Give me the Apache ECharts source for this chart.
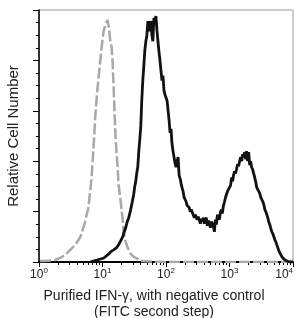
<!DOCTYPE html>
<html>
<head>
<meta charset="utf-8">
<script src="https://cdn.jsdelivr.net/npm/echarts@6/dist/echarts.min.js"></script>
<style>
  html, body { margin: 0; padding: 0; background: #fff; }
  #chart { width: 295px; height: 318px; }
</style>
</head>
<body>
<div id="chart"></div>
<script>
// negative control (grey dashed)
var controlX = [1.04, 1.24, 1.8, 2.15, 2.59, 3.1, 3.73, 4.48, 5.18, 6.0, 6.69, 7.2, 7.74, 8.33, 8.96, 9.64,
  10.4, 11.2, 12.0, 12.5, 13.4, 13.9, 14.4, 15.0, 15.5, 16.1, 17.3, 17.9, 19.3, 20.8, 21.5, 23.2, 25.0,
  27.8, 31, 36, 40, 58, 100, 10000];
var controlY = [1, 1, 2, 4, 7, 12, 17, 25, 37, 54, 82, 112, 147, 172, 192, 212,
  229, 236, 240, 234, 217, 214, 200, 172, 147, 122, 94, 77, 60, 42, 30, 20, 14,
  8, 5, 3, 1, 0.5, 0, 0];

// purified IFN-gamma (black)
var ifnX = [6.45, 7.2, 8.2, 9.3, 10.5, 12.0, 13.4, 15.0, 16.5, 17.9, 19.3, 20.8, 22, 23.2, 24.5, 25.9,
  27.8, 29.5, 31.0, 32.2, 33.4, 34.6, 35.9, 37.3, 38.7, 40.1, 41.5, 43.1, 44.8, 46.4, 48.2, 50, 51.8,
  53.7, 55.7, 57.8, 60, 62.2, 64.5, 67, 69.4, 72, 74.7, 77.4, 80.3, 83.3, 86.4, 89.6, 93, 96.5,
  100, 104, 108, 112, 116, 120, 124, 129, 134, 139, 144, 150, 155, 161, 168, 175, 182, 186, 193,
  200, 207, 215, 224, 232, 241, 250, 260, 268, 280, 290, 299, 310, 322, 334, 347, 360, 373, 387,
  400, 415, 431, 447, 464, 482, 500, 520, 540, 557, 578, 600, 622, 645, 669, 694, 720, 750, 770,
  803, 835, 865, 896, 930, 965, 1000, 1040, 1080, 1120, 1157, 1200, 1245, 1291, 1340, 1390, 1442,
  1500, 1560, 1610, 1667, 1730, 1800, 1862, 1930, 2005, 2077, 2150, 2230, 2310, 2402, 2490, 2580,
  2683, 2780, 2890, 2995, 3110, 3230, 3350, 3467, 3600, 3730, 3866, 4000, 4150, 4315, 4480, 4650,
  4820, 4990, 5180, 5370, 5569, 5780, 6000, 6218, 6450, 6700, 6950, 7196, 7470, 7750, 8032, 8500,
  8964, 10000];
var ifnY = [0, 1, 2, 3, 4, 7, 10, 12, 14, 17, 21, 25, 30, 34, 40, 44,
  52, 60, 67, 75, 80, 88, 94, 110, 122, 135, 160, 180, 195, 210, 219, 225, 239,
  229, 235, 239, 225, 219, 242, 240, 244, 230, 219, 209, 200, 190, 180, 185, 170, 166,
  165, 160, 150, 140, 128, 132, 118, 110, 104, 98, 94, 100, 104, 86, 82, 76, 72, 70, 64,
  62, 60, 56, 57, 54, 50, 52, 49, 48, 44, 47, 47, 42, 45, 42, 38, 43, 40, 44,
  38, 42, 44, 36, 41, 39, 34, 40, 38, 35, 30, 42, 37, 47, 44, 42, 50, 52, 48,
  56, 60, 64, 67, 70, 72, 74, 76, 84, 80, 86, 90, 88, 92, 97, 95, 100,
  104, 100, 107, 104, 109, 102, 110, 100, 109, 96, 100, 94, 92, 88, 84, 80,
  74, 72, 70, 68, 64, 62, 60, 57, 52, 50, 47, 44, 40, 37, 33, 30,
  28, 27, 22, 20, 17, 14, 11, 9, 7, 5, 4, 4, 2, 1, 1, 0,
  0, 0];

var majorTicks = [1, 10, 100, 1000, 10000];
var minorTicks = [2, 3, 4, 5, 6, 7, 8, 9, 20, 30, 40, 50, 60, 70, 80, 90,
  200, 300, 400, 500, 600, 700, 800, 900, 2000, 3000, 4000, 5000, 6000, 7000, 8000, 9000];

var font = '"Liberation Sans", Arial, Helvetica, sans-serif';

function pairs(xs, ys) {
  var out = [];
  for (var i = 0; i < xs.length; i++) out.push([xs[i], ys[i]]);
  return out;
}

var chart = echarts.init(document.getElementById('chart'));
chart.setOption({
  animation: false,
  backgroundColor: '#fff',
  grid: {
    left: 39, right: 2, top: 10, bottom: 56,
    outerBoundsMode: 'none', containLabel: false,
    show: true, borderColor: '#999', borderWidth: 1
  },
  xAxis: [
    {
      type: 'log', logBase: 10, min: 1, max: 10000, position: 'bottom',
      axisLine: { lineStyle: { color: '#000', width: 2 } },
      axisTick: { length: 5, lineStyle: { color: '#000', width: 1 }, customValues: majorTicks },
      splitLine: { show: false },
      axisLabel: {
        margin: 5, customValues: majorTicks, alignMaxLabel: 'right',
        fontFamily: font, fontSize: 12, color: '#222',
        formatter: function (v) {
          return '10{s|' + Math.round(Math.log10(v)) + '}';
        },
        rich: { s: { fontFamily: font, fontSize: 8, color: '#222', padding: [0, 0, 7, 0] } }
      }
    },
    {
      type: 'log', logBase: 10, min: 1, max: 10000, position: 'bottom',
      axisLine: { show: false },
      axisTick: { length: 3, lineStyle: { color: '#000', width: 1 }, customValues: minorTicks },
      axisLabel: { show: false },
      splitLine: { show: false }
    }
  ],
  yAxis: {
    type: 'value', min: 0, max: 250, interval: 50,
    axisLine: { show: true, lineStyle: { color: '#000', width: 1.5 } },
    axisTick: { show: true, length: 6, lineStyle: { color: '#000', width: 1 } },
    minorTick: { show: true, splitNumber: 4, length: 3, lineStyle: { color: '#000', width: 1 } },
    axisLabel: { show: false },
    splitLine: { show: false },
    name: 'Relative Cell Number',
    nameLocation: 'middle',
    nameGap: 18,
    nameTextStyle: { fontFamily: font, fontSize: 15, color: '#222' }
  },
  graphic: [{
    type: 'text', x: 154, y: 288,
    style: {
      text: 'Purified IFN-γ, with negative control\n(FITC second step)',
      font: '14px ' + font, fill: '#222',
      align: 'center', verticalAlign: 'top', lineHeight: 16
    }
  }],
  series: [
    {
      name: 'negative control', type: 'line', symbol: 'none', xAxisIndex: 0,
      data: pairs(controlX, controlY),
      lineStyle: { color: '#a8a8a8', width: 2.5, type: [11, 3] }
    },
    {
      name: 'Purified IFN-γ', type: 'line', symbol: 'none', xAxisIndex: 0,
      data: pairs(ifnX, ifnY),
      lineStyle: { color: '#111', width: 2.8 }
    }
  ]
});
</script>
</body>
</html>
